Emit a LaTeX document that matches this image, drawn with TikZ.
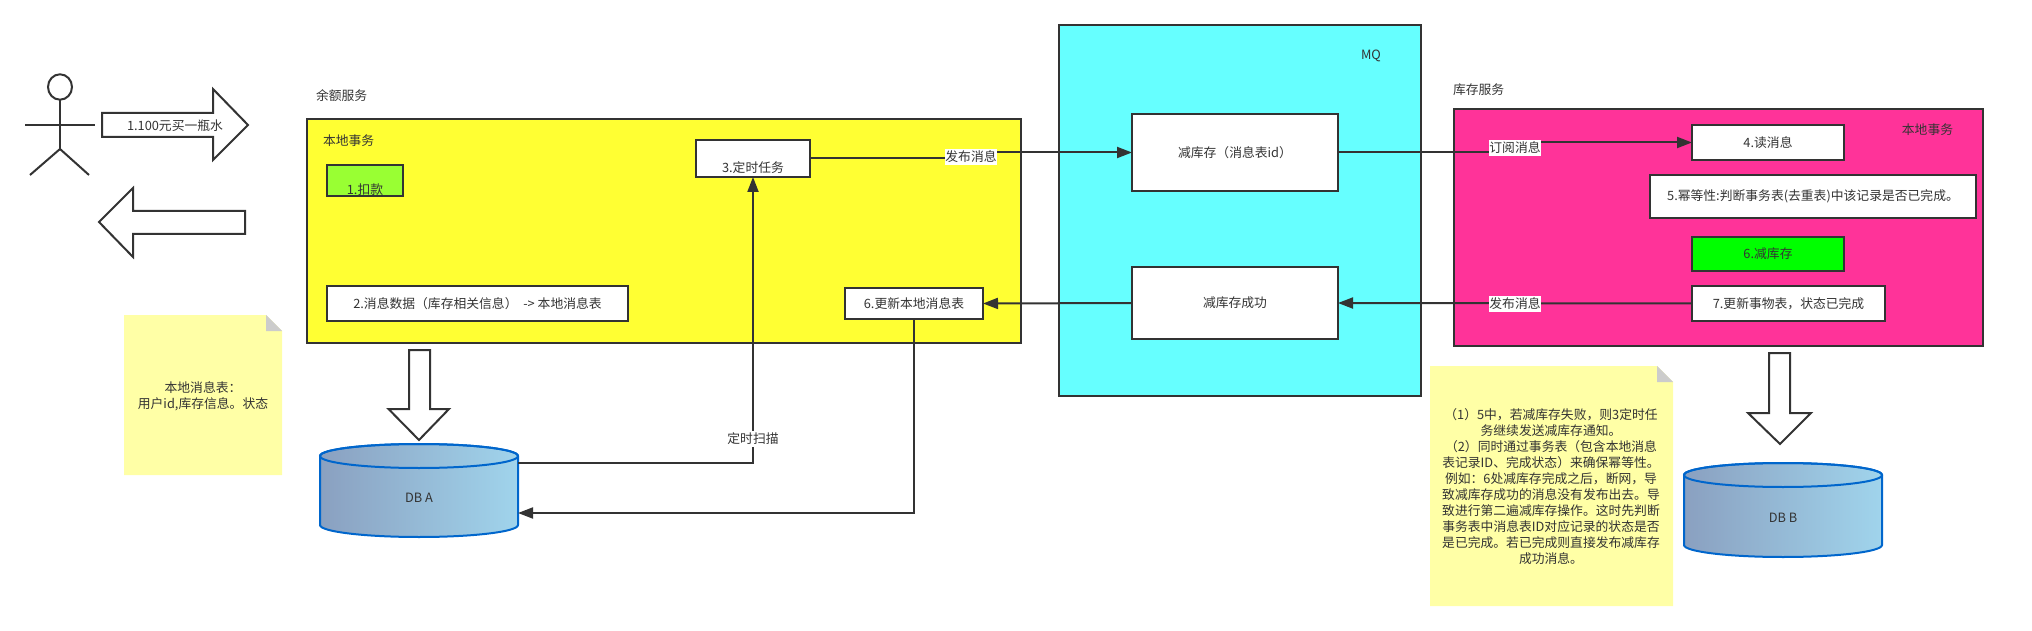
\documentclass[tikz,border=0pt]{standalone}
\usepackage{fontspec}
\setmainfont{Noto Sans CJK SC}
\usepackage{xcolor}
\usetikzlibrary{calc,arrows.meta}
\definecolor{inkgray}{HTML}{333333}
\definecolor{txyellow}{HTML}{FFFF33}
\definecolor{txlime}{HTML}{99FF33}
\definecolor{mqcyan}{HTML}{66FFFF}
\definecolor{txpink}{HTML}{FF3399}
\definecolor{notepale}{HTML}{FFFFA6}
\definecolor{dbleft}{HTML}{8AA0C0}
\definecolor{dbright}{HTML}{A0D4EC}
\definecolor{dbline}{HTML}{0066CC}
\tikzset{
    box/.style={draw=inkgray, line width=2pt, fill=white, inner sep=0pt, outer sep=0pt, text=inkgray},
    plain/.style={inner sep=0pt, outer sep=0pt, text=inkgray},
    msgtag/.style={fill=white, inner sep=0.5pt, outer sep=0pt, minimum height=16pt, text=inkgray},
    flow/.style={draw=inkgray, line width=2pt, -{Triangle[length=15pt,width=11pt]}},
    blockarrow/.style={draw=inkgray, line width=2pt, fill=white, line join=miter},
    actor/.style={draw=inkgray, line width=2pt},
    dbbody/.style={draw=dbline, line width=2pt, left color=dbleft, right color=dbright},
    dblid/.style={draw=dbline, line width=2pt}
}

\begin{document}
\begin{tikzpicture}[x=1pt, y=-1pt, font=\fontsize{12.8}{16}\selectfont]
    \useasboundingbox (0,0) rectangle (2032,631);

    % Actor
    \draw[actor] (60,87) ellipse (12 and 12.7);
    \draw[actor] (60,99.5) -- (60,149);
    \draw[actor] (25,125) -- (95,125);
    \draw[actor] (30,175) -- (60,149) -- (89,175);

    % Block arrows to and from the actor
    \draw[blockarrow] (102,113) -- (213,113) -- (213,89) -- (248,125) -- (213,160) -- (213,137) -- (102,137) -- cycle;
    \node[plain] (buyText) at (175,126) {1.100元买一瓶水};
    \draw[blockarrow] (245,211) -- (133,211) -- (133,188) -- (99,222) -- (133,257) -- (133,234) -- (245,234) -- cycle;

    % Balance service
    \node[plain, anchor=west] (balanceTitle) at (316,96) {余额服务};
    \node[box, fill=txyellow, minimum width=714pt, minimum height=224pt] (balanceTx) at (664,231) {};
    \node[plain, anchor=west] (balanceTxTitle) at (323,141) {本地事务};
    \node[box, fill=txlime, minimum width=76pt, minimum height=31pt] (deduct) at (365,180.5) {};
    \node[plain] (deductText) at (365,190) {1.扣款};
    \node[box, minimum width=301pt, minimum height=35pt] (writeMsg) at (477.5,303.5) {2.消息数据（库存相关信息）~~->~本地消息表};
    \node[box, minimum width=114pt, minimum height=37pt] (timer) at (753,158.5) {};
    \node[plain] (timerText) at (753,168) {3.定时任务};
    \node[box, minimum width=138pt, minimum height=31pt] (updateMsg) at (914,303.5) {6.更新本地消息表};

    % MQ
    \node[box, fill=mqcyan, minimum width=362pt, minimum height=371pt] (mq) at (1240,210.5) {};
    \node[plain] (mqTitle) at (1371,56) {MQ};
    \node[box, minimum width=206pt, minimum height=77pt] (cut) at (1235,152.5) {减库存（消息表id）};
    \node[box, minimum width=206pt, minimum height=72pt] (cutOk) at (1235,303) {减库存成功};

    % Stock service
    \node[plain, anchor=west] (stockTitle) at (1453,90) {库存服务};
    \node[box, fill=txpink, minimum width=529pt, minimum height=237pt] (stockTx) at (1718.5,227.5) {};
    \node[plain] (stockTxTitle) at (1927.5,130) {本地事务};
    \node[box, minimum width=152pt, minimum height=35pt] (readMsg) at (1768,142.5) {4.读消息};
    \node[box, minimum width=326pt, minimum height=43pt] (idem) at (1813,196.5) {5.幂等性:判断事务表(去重表)中该记录是否已完成。};
    \node[box, fill=green, minimum width=152pt, minimum height=34pt] (cutStock) at (1768,254) {6.减库存};
    \node[box, minimum width=193pt, minimum height=35pt] (updateTx) at (1788.5,303.5) {7.更新事物表，状态已完成};

    % Databases
    \draw[blockarrow] (409,350) -- (430,350) -- (430,409) -- (449,409) -- (419,440) -- (388.5,409) -- (409,409) -- cycle;
    \draw[dbbody] (320,456) -- (320,525) arc[x radius=99, y radius=12, start angle=180, end angle=0] -- (518,456) arc[x radius=99, y radius=12, start angle=360, end angle=180] -- cycle;
    \draw[dblid] (419,456) ellipse (99 and 12);
    \node[plain] (dbA) at (419,498) {DB A};
    \draw[blockarrow] (1769,353) -- (1790,353) -- (1790,413) -- (1811,413) -- (1780,444) -- (1748,413) -- (1769,413) -- cycle;
    \draw[dbbody] (1684,475) -- (1684,545) arc[x radius=99, y radius=12, start angle=180, end angle=0] -- (1882,475) arc[x radius=99, y radius=12, start angle=360, end angle=180] -- cycle;
    \draw[dblid] (1783,475) ellipse (99 and 12);
    \node[plain] (dbB) at (1783,518) {DB B};

    % Notes
    \fill[notepale] (124,315) -- (266,315) -- (282,331) -- (282,475) -- (124,475) -- cycle;
    \fill[black!20] (266,315) -- (282,331) -- (266,331) -- cycle;
    \node[plain, align=center] (msgNote) at (203,396.5) {本地消息表：\\用户id,库存信息。状态};
    \fill[notepale] (1430,366) -- (1657,366) -- (1673,382) -- (1673,606) -- (1430,606) -- cycle;
    \fill[black!20] (1657,366) -- (1673,382) -- (1657,382) -- cycle;
    \node[plain, align=center] (retryNote) at (1551,487) {%
        （1）5中，若减库存失败，则3定时任\\
        务继续发送减库存通知。\\
        （2）同时通过事务表（包含本地消息\\
        表记录ID、完成状态）来确保幂等性。\\
        例如：6处减库存完成之后，断网，导\\
        致减库存成功的消息没有发布出去。导\\
        致进行第二遍减库存操作。这时先判断\\
        事务表中消息表ID对应记录的状态是否\\
        是已完成。若已完成则直接发布减库存\\
        成功消息。};

    % Connectors
    \coordinate (pubA) at (971,157);
    \draw[flow] (timer.east) -| (pubA) |- (cut.west);
    \node[msgtag] (pubAText) at (pubA) {发布消息};
    \coordinate (subA) at (1515,148);
    \draw[flow] (cut.east) -| (subA) |- (readMsg.west);
    \node[msgtag] (subAText) at (subA) {订阅消息};
    \coordinate (pubB) at (1515,304);
    \draw[flow] (updateTx.west) -- (cutOk.east);
    \node[msgtag] (pubBText) at (pubB) {发布消息};
    \draw[flow] (cutOk.west) -- (updateMsg.east);

    % Scan and write back
    \coordinate (dbAout) at (518,463);
    \coordinate (dbAin) at (518,513);
    \draw[flow] (dbAout) -| (timer.south);
    \node[msgtag] (scanText) at (753,439) {定时扫描};
    \draw[flow] (updateMsg.south) |- (dbAin);
\end{tikzpicture}
\end{document}
